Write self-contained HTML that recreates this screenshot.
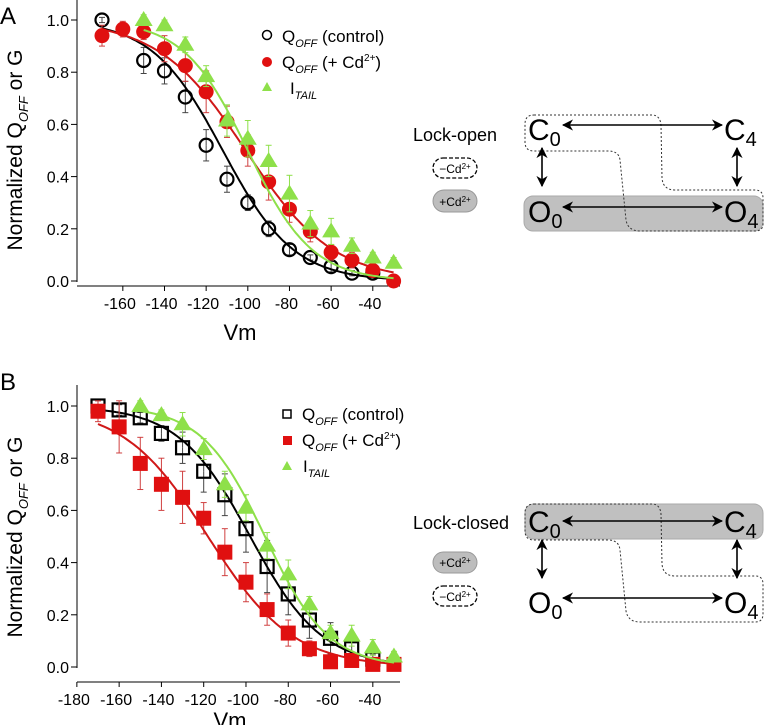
<!DOCTYPE html>
<html><head><meta charset="utf-8"><style>
body{margin:0;background:#fff;}
svg{display:block;font-family:"Liberation Sans",Arial,sans-serif;}
</style></head><body>
<svg id="s" width="764" height="725" viewBox="0 0 764 725" xmlns="http://www.w3.org/2000/svg">
<defs>
<marker id="ah" viewBox="0 0 10 10" refX="9" refY="5" markerWidth="7" markerHeight="7" orient="auto-start-reverse"><path d="M0,0 L10,5 L0,10 L3,5 z" fill="#000"/></marker>
</defs>
<!-- Panel A -->
<text x="0" y="24" font-size="24">A</text>
<line x1="77" y1="0" x2="77" y2="282" stroke="#000" stroke-width="1"/>
<line x1="77" y1="286" x2="400" y2="286" stroke="#000" stroke-width="1"/>
<g id="ayt" font-size="16" text-anchor="end"></g>
<g id="axt" font-size="16" text-anchor="middle"></g>
<text x="240" y="340" font-size="22" text-anchor="middle">Vm</text>
<text transform="translate(22,150) rotate(-90)" font-size="21" text-anchor="middle">Normalized Q<tspan font-size="13" dy="6" font-style="italic">OFF</tspan><tspan dy="-6"> or G</tspan></text>
<g id="pa"></g>
<!-- legend A -->
<circle cx="267" cy="35" r="4.5" fill="none" stroke="#000" stroke-width="1.5"/>
<text x="282" y="42" font-size="17">Q<tspan font-size="11" font-style="italic" dy="5">OFF</tspan><tspan dy="-5"> (control)</tspan></text>
<circle cx="267" cy="62" r="5" fill="#e01010"/>
<text x="282" y="68" font-size="17">Q<tspan font-size="11" font-style="italic" dy="5">OFF</tspan><tspan dy="-5"> (+ Cd</tspan><tspan font-size="10" dy="-7">2+</tspan><tspan dy="7">)</tspan></text>
<polygon points="267,82 272,91 262,91" fill="#8ee04a"/>
<text x="290" y="94" font-size="17">I<tspan font-size="11" font-style="italic" dy="5">TAIL</tspan></text>

<!-- Panel B -->
<text x="0" y="390" font-size="24">B</text>
<line x1="77" y1="385" x2="77" y2="668" stroke="#000" stroke-width="1"/>
<line x1="77" y1="682" x2="400" y2="682" stroke="#000" stroke-width="1"/>
<g id="byt" font-size="16" text-anchor="end"></g>
<g id="bxt" font-size="16" text-anchor="middle"></g>
<text x="230" y="728" font-size="22" text-anchor="middle">Vm</text>
<text transform="translate(22,537) rotate(-90)" font-size="21" text-anchor="middle">Normalized Q<tspan font-size="13" dy="6" font-style="italic">OFF</tspan><tspan dy="-6"> or G</tspan></text>
<g id="pb"></g>
<rect x="283" y="410" width="8" height="8" fill="none" stroke="#000" stroke-width="1.5"/>
<text x="302" y="420" font-size="17">Q<tspan font-size="11" font-style="italic" dy="5">OFF</tspan><tspan dy="-5"> (control)</tspan></text>
<rect x="283" y="436" width="9" height="9" fill="#e01010"/>
<text x="302" y="446" font-size="17">Q<tspan font-size="11" font-style="italic" dy="5">OFF</tspan><tspan dy="-5"> (+ Cd</tspan><tspan font-size="10" dy="-7">2+</tspan><tspan dy="7">)</tspan></text>
<polygon points="287,461 292,470 282,470" fill="#8ee04a"/>
<text x="303" y="472" font-size="17">I<tspan font-size="11" font-style="italic" dy="5">TAIL</tspan></text>

<!-- Diagram A -->
<rect x="524" y="196" width="239" height="35" rx="9" fill="#c0c0c0" stroke="#aaa"/>
<path d="M534,115 L652,115 Q660,115 661,125 L662,178 Q663,190 675,190 L755,190 Q763,190 763,198 L763,224 Q763,231 755,231 L640,231 Q628,231 626,220 L620,160 Q619,151 608,151 L534,151 Q525,151 525,142 L525,124 Q525,115 534,115 Z" fill="none" stroke="#333" stroke-width="1" stroke-dasharray="2,2"/>
<text x="413" y="141" font-size="18">Lock-open</text>
<rect x="433" y="158" width="44" height="20" rx="10" fill="none" stroke="#000" stroke-width="1.3" stroke-dasharray="4,2"/>
<text x="455" y="173" font-size="12" text-anchor="middle">−Cd<tspan font-size="8" dy="-4">2+</tspan></text>
<rect x="433" y="190" width="44" height="22" rx="11" fill="#bdbdbd" stroke="#999"/>
<text x="455" y="206" font-size="12" text-anchor="middle">+Cd<tspan font-size="8" dy="-4">2+</tspan></text>
<text x="528" y="140" font-size="30">C<tspan font-size="20" dy="6">0</tspan></text>
<text x="724" y="140" font-size="30">C<tspan font-size="20" dy="6">4</tspan></text>
<text x="528" y="222" font-size="30">O<tspan font-size="20" dy="6">0</tspan></text>
<text x="724" y="222" font-size="30">O<tspan font-size="20" dy="6">4</tspan></text>
<line x1="563" y1="125" x2="722" y2="125" stroke="#000" stroke-width="1.6" marker-start="url(#ah)" marker-end="url(#ah)"/>
<line x1="563" y1="207" x2="722" y2="207" stroke="#000" stroke-width="1.6" marker-start="url(#ah)" marker-end="url(#ah)"/>
<line x1="542" y1="148" x2="542" y2="186" stroke="#000" stroke-width="1.6" marker-start="url(#ah)" marker-end="url(#ah)"/>
<line x1="737" y1="148" x2="737" y2="186" stroke="#000" stroke-width="1.6" marker-start="url(#ah)" marker-end="url(#ah)"/>

<!-- Diagram B -->
<rect x="525" y="504" width="238" height="35" rx="9" fill="#c0c0c0" stroke="#aaa"/>
<path d="M534,504 L652,504 Q660,504 661,514 L662,564 Q663,576 675,576 L755,576 Q763,576 763,584 L763,614 Q763,622 755,622 L640,622 Q628,622 626,611 L620,550 Q619,540 608,540 L534,540 Q525,540 525,531 L525,513 Q525,504 534,504 Z" fill="none" stroke="#333" stroke-width="1" stroke-dasharray="2,2"/>
<text x="413" y="529" font-size="18">Lock-closed</text>
<rect x="433" y="552" width="44" height="21" rx="10.5" fill="#bdbdbd" stroke="#999"/>
<text x="455" y="567" font-size="12" text-anchor="middle">+Cd<tspan font-size="8" dy="-4">2+</tspan></text>
<rect x="433" y="586" width="44" height="20" rx="10" fill="none" stroke="#000" stroke-width="1.3" stroke-dasharray="4,2"/>
<text x="455" y="601" font-size="12" text-anchor="middle">−Cd<tspan font-size="8" dy="-4">2+</tspan></text>
<text x="528" y="532" font-size="30">C<tspan font-size="20" dy="6">0</tspan></text>
<text x="724" y="532" font-size="30">C<tspan font-size="20" dy="6">4</tspan></text>
<text x="528" y="613" font-size="30">O<tspan font-size="20" dy="6">0</tspan></text>
<text x="724" y="613" font-size="30">O<tspan font-size="20" dy="6">4</tspan></text>
<line x1="563" y1="521" x2="722" y2="521" stroke="#000" stroke-width="1.6" marker-start="url(#ah)" marker-end="url(#ah)"/>
<line x1="563" y1="598" x2="722" y2="598" stroke="#000" stroke-width="1.6" marker-start="url(#ah)" marker-end="url(#ah)"/>
<line x1="542" y1="540" x2="542" y2="578" stroke="#000" stroke-width="1.6" marker-start="url(#ah)" marker-end="url(#ah)"/>
<line x1="737" y1="540" x2="737" y2="578" stroke="#000" stroke-width="1.6" marker-start="url(#ah)" marker-end="url(#ah)"/>
</svg>
<script>
var NS="http://www.w3.org/2000/svg";
function el(p,t,a){var e=document.createElementNS(NS,t);for(var k in a)e.setAttribute(k,a[k]);p.appendChild(e);return e;}
function panel(gid,ytg,xtg,X0,XS,Y1,Y0,xAxisY,ticks,series){
 var g=document.getElementById(gid),yt=document.getElementById(ytg),xt=document.getElementById(xtg);
 function px(v){return X0+(v+170)*XS;} function py(y){return Y0-(Y0-Y1)*y;}
 for(var i=0;i<=5;i++){var y=py(i*0.2);el(yt,"line",{x1:71,y1:y,x2:77,y2:y,stroke:"#000"});var t=el(yt,"text",{x:69,y:y+6});t.textContent=(i*0.2).toFixed(1);}
 ticks.forEach(function(v){var x=px(v);el(xt,"line",{x1:x,y1:xAxisY,x2:x,y2:xAxisY+5,stroke:"#000"});var t=el(xt,"text",{x:x-3,y:xAxisY+23});t.textContent=v;});
 series.forEach(function(s){
  var d="";for(var v=s.v0;v<=-30;v+=1){var y=1/(1+Math.exp((v-s.vh)/s.k));d+=(d?"L":"M")+px(v).toFixed(1)+","+py(y).toFixed(1);}
  s.pts.forEach(function(p){var x=px(p[0]),y=py(p[1]),e=p[2]||0.04;el(g,"line",{x1:x,y1:y,x2:x,y2:py(p[1]-e),stroke:s.ec,"stroke-width":1});el(g,"line",{x1:x-3,y1:py(p[1]-e),x2:x+3,y2:py(p[1]-e),stroke:s.ec});el(g,"line",{x1:x,y1:y,x2:x,y2:py(p[1]+e),stroke:s.ec});el(g,"line",{x1:x-3,y1:py(p[1]+e),x2:x+3,y2:py(p[1]+e),stroke:s.ec});});
  el(g,"path",{d:d,fill:"none",stroke:s.c,"stroke-width":2});
  s.pts.forEach(function(p){var x=px(p[0]),y=py(p[1]);
   if(s.m=="oc")el(g,"circle",{cx:x,cy:y,r:6.5,fill:"none",stroke:"#000","stroke-width":2.2});
   if(s.m=="fc")el(g,"circle",{cx:x,cy:y,r:7.5,fill:"#e01010"});
   if(s.m=="tr")el(g,"polygon",{points:(x)+","+(y-9)+" "+(x+9)+","+(y+6)+" "+(x-9)+","+(y+6),fill:"#8ee04a"});
   if(s.m=="os")el(g,"rect",{x:x-6.5,y:y-6.5,width:13,height:13,fill:"none",stroke:"#000","stroke-width":2.2});
   if(s.m=="fs")el(g,"rect",{x:x-7.5,y:y-7.5,width:15,height:15,fill:"#e01010"});
  });
 });
}
function mk(a){return a.map(function(p){return [p[0],p[1],p[2]||0.04];});}
panel("pa","ayt","axt",102,2.083,20,281,286,[-160,-140,-120,-100,-80,-60,-40],[
 {c:"#000",ec:"#444",m:"oc",vh:-112,k:17,v0:-170,pts:mk([[-170,1.0,0.01],[-150,.845,.05],[-140,.805,.05],[-130,.705,.06],[-120,.52,.06],[-110,.39,.05],[-100,.30,.03],[-90,.20,.03],[-80,.12,.02],[-70,.09,.01],[-60,.055,.02],[-50,.03,.01],[-40,.03,.01]])},
 {c:"#d01818",ec:"#d04040",m:"fc",vh:-101,k:21,v0:-170,pts:mk([[-170,.94,.04],[-160,.965,.03],[-150,.955,.03],[-140,.89,.05],[-130,.825,.06],[-120,.725,.08],[-110,.61,.06],[-100,.50,.06],[-90,.38,.07],[-80,.275,.05],[-70,.19,.04],[-60,.11,.03],[-50,.08,.03],[-40,.04,.02],[-30,0,.01]])},
 {c:"#8ee04a",ec:"#8ee04a",m:"tr",vh:-100,k:15.5,v0:-150,pts:mk([[-150,1.0,.02],[-140,.98,.02],[-130,.905,.03],[-120,.785,.04],[-110,.615,.06],[-100,.545,.07],[-90,.46,.06],[-80,.335,.07],[-70,.22,.05],[-60,.19,.05],[-50,.135,.03],[-40,.09,.02],[-30,.07,.02]])}
]);
panel("pb","byt","bxt",98,2.114,406,667,682,[-180,-160,-140,-120,-100,-80,-60,-40],[
 {c:"#000",ec:"#444",m:"os",vh:-98,k:17,v0:-170,pts:mk([[-170,1.0,.02],[-160,.985,.02],[-150,.955,.02],[-140,.895,.03],[-130,.84,.06],[-120,.75,.08],[-110,.66,.08],[-100,.53,.09],[-90,.385,.1],[-80,.28,.08],[-70,.18,.07],[-60,.11,.06],[-50,.07,.03],[-40,.03,.02]])},
 {c:"#d01818",ec:"#d04040",m:"fs",vh:-118,k:20,v0:-170,pts:mk([[-170,.98,.04],[-160,.92,.1],[-150,.78,.1],[-140,.70,.1],[-130,.65,.1],[-120,.57,.06],[-110,.44,.09],[-100,.325,.075],[-90,.22,.06],[-80,.13,.05],[-70,.07,.03],[-60,.02,.01],[-50,.025,.01],[-40,.01,.01],[-30,.01,.01]])},
 {c:"#8ee04a",ec:"#8ee04a",m:"tr",vh:-91,k:15,v0:-150,pts:mk([[-150,1.0,.02],[-140,.965,.02],[-130,.93,.045],[-120,.835,.04],[-110,.70,.05],[-100,.61,.05],[-90,.465,.05],[-80,.355,.055],[-70,.24,.03],[-60,.13,.03],[-50,.12,.04],[-40,.075,.03],[-30,.04,.02]])}
]);
</script>
</body></html>
